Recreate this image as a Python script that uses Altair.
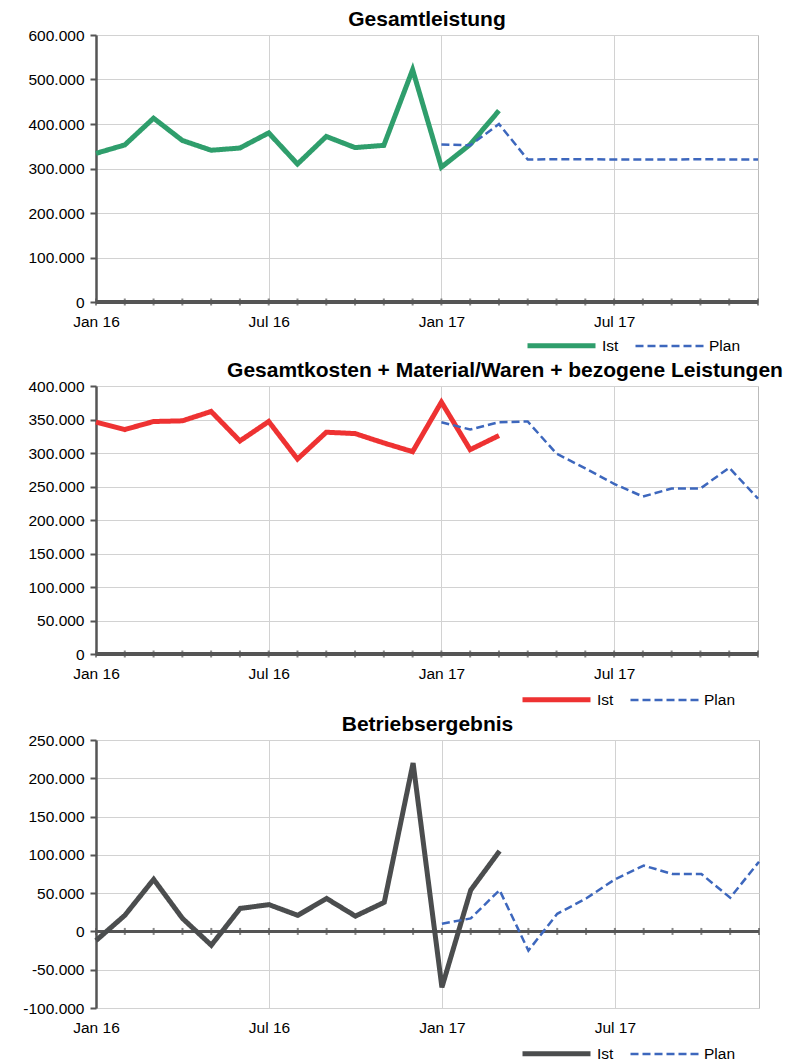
import altair as alt
import pandas as pd

months = ["Jan 16", "Feb 16", "Mrz 16", "Apr 16", "Mai 16", "Jun 16",
          "Jul 16", "Aug 16", "Sep 16", "Okt 16", "Nov 16", "Dez 16",
          "Jan 17", "Feb 17", "Mrz 17", "Apr 17", "Mai 17", "Jun 17",
          "Jul 17", "Aug 17", "Sep 17", "Okt 17", "Nov 17", "Dez 17"]
label_months = [0, 6, 12, 18]
plan_start = 12

titles = ["Gesamtleistung",
          "Gesamtkosten + Material/Waren + bezogene Leistungen",
          "Betriebsergebnis"]

ist_leistung = [334000, 353000, 413000, 363000, 341000, 346000, 380000, 310000,
                372000, 347000, 352000, 522000, 303000, 354000, 430000]
plan_leistung = [354000, 352000, 400000, 320000, 321000, 321000, 320000, 320000,
                 320000, 321000, 320000, 320000]

ist_kosten = [346000, 335000, 347000, 348000, 362000, 318000, 347000, 291000,
              331000, 329000, 315000, 302000, 376000, 305000, 326000]
plan_kosten = [346000, 335000, 346000, 347000, 299000, 277000, 254000, 235000,
               247000, 247000, 278000, 232000]

ist_ergebnis = [-12000, 21000, 68000, 17000, -18000, 30000, 35000, 21000,
                43000, 20000, 38000, 220000, -73000, 54000, 105000]
plan_ergebnis = [10000, 17000, 54000, -25000, 23000, 43000, 68000, 86000,
                 75000, 75000, 44000, 91000]

y_domains = [[0, 600000], [0, 400000], [-100000, 250000]]
y_steps = [100000, 50000, 50000]
ist_colors = ["#2f9e6c", "#ee3232", "#4b4d4e"]
plan_color = "#3d67bd"
series = ["Ist", "Plan"]

FONT = "Liberation Sans"
AX = "#555555"

month_js = "[" + ",".join("'" + m + "'" for m in months) + "]"
x_label_expr = month_js + "[datum.value]"
y_label_expr = ("(datum.value < 0 ? '-' : '') + "
                "replace(format(abs(datum.value), ','), ',', '.')")


def make_chart(i, ist, plan, width, height, legend_x, legend_y, title_dx):
    rows = []
    for k, v in enumerate(ist):
        rows.append({"idx": k, "value": v, "Serie": "Ist"})
    for k, v in enumerate(plan):
        rows.append({"idx": plan_start + k, "value": v, "Serie": "Plan"})
    df = pd.DataFrame(rows)
    lo, hi = y_domains[i]
    yvals = list(range(lo, hi + 1, y_steps[i]))

    x_scale = alt.Scale(domain=[0, len(months) - 1], nice=False, zero=False)
    y_scale = alt.Scale(domain=[lo, hi], nice=False)
    x_axis = alt.Axis(values=label_months, labelExpr=x_label_expr,
                      grid=True, domain=False, ticks=False,
                      labelPadding=12, labelFlush=False)
    y_axis = alt.Axis(values=yvals, labelExpr=y_label_expr, grid=True)

    x_enc = alt.X("idx:Q", scale=x_scale, title=None, axis=x_axis)
    y_enc = alt.Y("value:Q", scale=y_scale, title=None, axis=y_axis)
    y_zero = alt.YDatum(0, scale=y_scale, title=None, axis=y_axis)

    lines = alt.Chart(df).mark_line(strokeCap="butt", strokeJoin="miter").encode(
        x=x_enc,
        y=y_enc,
        color=alt.Color("Serie:N",
                        scale=alt.Scale(domain=series, range=[ist_colors[i], plan_color]),
                        legend=alt.Legend(orient="none", legendX=legend_x, legendY=legend_y,
                                          direction="horizontal", title=None,
                                          symbolType="stroke", symbolSize=4624,
                                          labelFontSize=15.5, labelFont=FONT,
                                          labelColor="black",
                                          columnPadding=11, labelOffset=4)),
        strokeDash=alt.StrokeDash("Serie:N",
                                  scale=alt.Scale(domain=series, range=[[1, 0], [8, 4]]),
                                  legend=None),
        strokeWidth=alt.StrokeWidth("Serie:N",
                                    scale=alt.Scale(domain=series, range=[5, 2.5]),
                                    legend=None),
    )

    tick_df = pd.DataFrame({"idx": list(range(len(months)))})
    ticks = alt.Chart(tick_df).mark_tick(orient="vertical", size=7, thickness=2,
                                         color=AX).encode(
        x=alt.X("idx:Q", scale=x_scale, title=None, axis=x_axis),
        y=y_zero,
    )
    zero = alt.Chart(tick_df).mark_rule(color=AX, strokeWidth=2.5).encode(
        y=y_zero
    )

    return alt.layer(zero, ticks, lines).properties(
        width=width, height=height,
        title=alt.TitleParams(titles[i], fontSize=21, font=FONT, fontWeight="bold",
                              color="black", anchor="middle", dx=title_dx, offset=-2),
    )


c1 = make_chart(0, ist_leistung, plan_leistung, 662, 267, 429, 274, 0)
c2 = make_chart(1, ist_kosten, plan_kosten, 662, 268, 424, 277, 78)
c3 = make_chart(2, ist_ergebnis, plan_ergebnis, 663, 268, 424, 277, 0)

chart = alt.vconcat(c1, c2, c3, spacing=2).resolve_scale(
    x="independent", y="independent", color="independent",
    strokeDash="independent", strokeWidth="independent"
).resolve_legend(
    color="independent", strokeDash="independent", strokeWidth="independent"
).properties(
    padding={"left": 14, "top": 0, "right": 5, "bottom": 0}
).configure_view(
    stroke="#bbbbbb", strokeWidth=1
).configure_axis(
    labelFont=FONT, labelFontSize=15.5, labelColor="black",
    gridColor="#d2d2d2", gridWidth=1,
).configure_axisY(
    domainColor=AX, domainWidth=2.5, tickColor=AX, tickWidth=2, tickSize=6,
    labelPadding=6,
)

chart.save("out.html", embed_options={"renderer": "svg", "actions": False})
